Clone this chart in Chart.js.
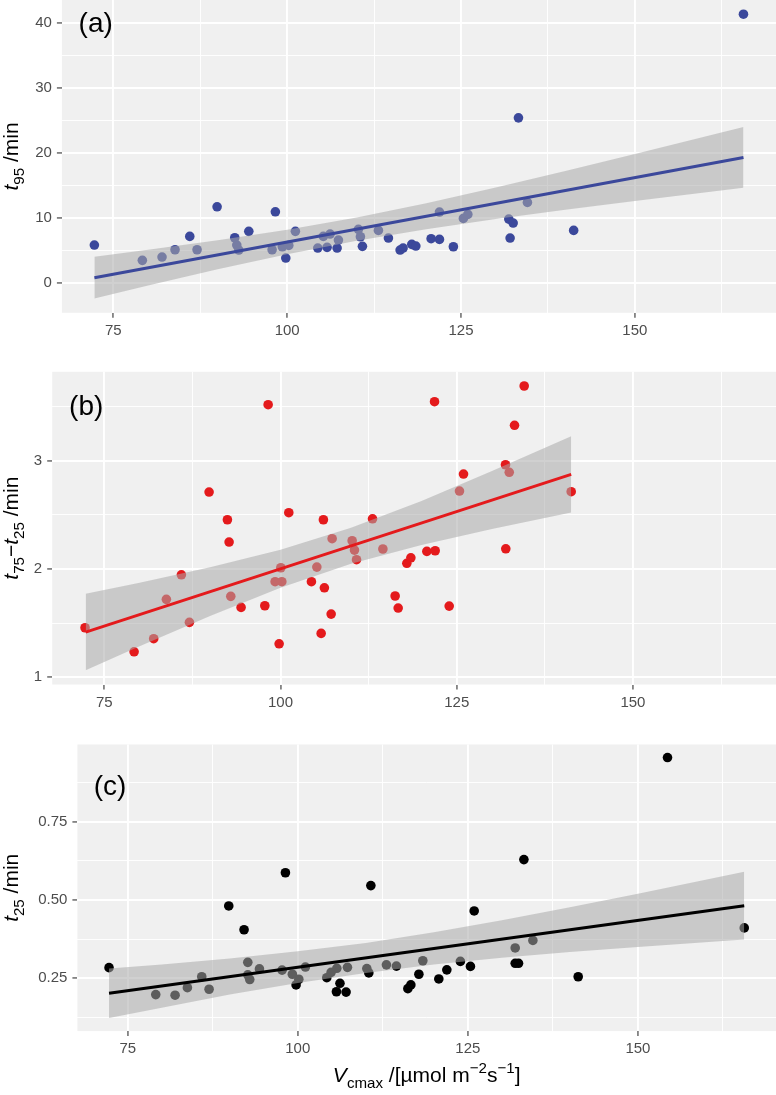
<!DOCTYPE html>
<html>
<head>
<meta charset="utf-8">
<script src="https://cdn.jsdelivr.net/npm/chart.js@4.4.0/dist/chart.umd.min.js"></script>
<style>
html, body { margin: 0; padding: 0; background: #fff; overflow: hidden; }
#wrap { position: relative; width: 776px; height: 1095px; overflow: hidden; }
canvas { position: absolute; left: 0; }
</style>
</head>
<body>
<div id="wrap">
  <canvas id="cntPanelA" width="776" height="370" style="top:-20px"></canvas>
  <canvas id="cntPanelB" width="776" height="370" style="top:350px"></canvas>
  <canvas id="cntPanelC" width="776" height="375" style="top:720px"></canvas>
</div>
<script>
// x axis (shared)
const xMajor = [75, 100, 125, 150];
const xMinor = [87.5, 112.5, 137.5, 162.5];

// (a) t95
const vcmaxA = [72.27, 79.17, 82.0, 83.87, 85.99, 87.04, 89.92, 92.46, 92.75, 93.04, 94.48, 97.83, 98.3, 99.3, 99.8, 100.23, 101.18, 104.4, 105.2, 105.74, 106.17, 107.18, 107.37, 110.24, 110.53, 110.82, 113.12, 114.56, 116.24, 116.67, 117.92, 118.5, 120.7, 121.9, 121.9, 123.9, 125.34, 125.98, 131.87, 132.5, 132.06, 133.26, 134.55, 141.2, 165.62];
const t95 = [5.87, 3.52, 4.03, 5.15, 7.2, 5.15, 11.74, 6.99, 5.87, 5.1, 7.97, 5.15, 10.97, 5.61, 3.88, 5.82, 7.97, 5.41, 7.2, 5.52, 7.56, 5.41, 6.64, 8.28, 7.14, 5.67, 8.12, 6.94, 5.1, 5.41, 5.98, 5.72, 6.84, 6.74, 10.93, 5.61, 9.96, 10.57, 9.85, 9.24, 6.94, 25.38, 12.41, 8.12, 41.27];
const fitXA = [72.27, 165.62];
const fitYA = [0.86, 19.31];
const bandXA = [72.27, 80, 90, 100, 110, 120, 130, 140, 150, 165.62];
const bandLoA = [-2.34, -0.35, 2.14, 4.47, 6.54, 8.31, 9.86, 11.28, 12.63, 14.66];
const bandHiA = [4.06, 5.13, 6.60, 8.22, 10.10, 12.29, 14.70, 17.23, 19.83, 23.96];
const yMajorA = [0, 10, 20, 30, 40];
const yMinorA = [5, 15, 25, 35];

// (b) t75 - t25
const vcmaxB = [72.26, 79.22, 82.0, 83.8, 85.93, 87.07, 89.86, 92.46, 92.7, 92.94, 94.4, 97.77, 98.24, 99.23, 99.8, 100.04, 100.18, 101.17, 104.38, 105.15, 105.76, 106.08, 106.22, 107.18, 107.32, 110.16, 110.49, 110.78, 113.05, 114.52, 116.26, 116.69, 117.92, 118.49, 120.76, 121.94, 121.85, 123.93, 125.39, 125.96, 131.92, 132.45, 131.96, 133.2, 134.57, 141.24];
const t75t25 = [1.458, 1.236, 1.357, 1.72, 1.947, 1.508, 2.711, 2.455, 2.249, 1.748, 1.646, 1.661, 3.517, 1.883, 1.31, 2.012, 1.883, 2.52, 1.883, 2.018, 1.406, 2.455, 1.827, 1.584, 2.28, 2.261, 2.175, 2.086, 2.464, 2.185, 1.751, 1.64, 2.053, 2.104, 2.163, 2.169, 3.545, 1.658, 2.72, 2.877, 2.963, 2.893, 2.187, 3.327, 3.69, 2.714];
const fitXB = [72.35, 141.24];
const fitYB = [1.418, 2.874];
const bandXB = [72.35, 80, 90, 100, 110, 120, 130, 141.24];
const bandLoB = [1.065, 1.286, 1.567, 1.827, 2.048, 2.221, 2.369, 2.521];
const bandHiB = [1.771, 1.874, 2.017, 2.179, 2.382, 2.629, 2.905, 3.227];
const yMajorB = [1, 2, 3];
const yMinorB = [1.5, 2.5, 3.5];

// (c) t25
const vcmaxC = [72.25, 79.12, 81.96, 83.77, 85.88, 86.96, 89.85, 92.1, 92.65, 92.65, 92.94, 94.36, 97.69, 98.18, 99.2, 99.75, 100.15, 101.12, 104.26, 104.9, 105.74, 105.68, 106.2, 107.1, 107.3, 110.15, 110.44, 110.74, 113.03, 114.5, 116.18, 116.62, 117.8, 118.38, 120.73, 121.91, 123.9, 125.38, 125.93, 131.96, 131.96, 132.45, 133.24, 134.56, 141.22, 154.35, 165.63];
const t25 = [0.284, 0.198, 0.196, 0.220, 0.255, 0.215, 0.481, 0.405, 0.301, 0.261, 0.246, 0.280, 0.276, 0.587, 0.263, 0.229, 0.247, 0.286, 0.252, 0.269, 0.282, 0.207, 0.234, 0.206, 0.285, 0.281, 0.267, 0.546, 0.293, 0.289, 0.217, 0.229, 0.263, 0.306, 0.248, 0.277, 0.304, 0.288, 0.465, 0.347, 0.298, 0.298, 0.629, 0.371, 0.255, 0.955, 0.411];
const fitXC = [72.25, 165.63];
const fitYC = [0.202, 0.482];
const bandXC = [72.25, 80, 90, 100, 110, 120, 130, 140, 150, 165.63];
const bandLoC = [0.123, 0.156, 0.198, 0.235, 0.267, 0.294, 0.316, 0.334, 0.350, 0.374];
const bandHiC = [0.281, 0.294, 0.313, 0.336, 0.363, 0.397, 0.435, 0.477, 0.520, 0.590];
const yMajorC = [0.25, 0.5, 0.75];
const yMinorC = [0.125, 0.375, 0.625, 0.875];

const FONT = "'Liberation Sans', Arial, sans-serif";
const BAND = 'rgba(170,170,170,0.55)';

function pts(xs, ys) {
  return xs.map(function(v, i) { return {x: v, y: ys[i]}; });
}

function drawRich(ctx, segs, size, cx, cy, rot) {
  ctx.save();
  ctx.translate(cx, cy);
  if (rot) ctx.rotate(-Math.PI / 2);
  ctx.textBaseline = 'alphabetic';
  ctx.textAlign = 'left';
  ctx.fillStyle = '#000';
  var w = 0;
  segs.forEach(function(s) {
    var sz = (s.sub || s.sup) ? size * 0.72 : size;
    ctx.font = (s.it ? 'italic ' : '') + sz + 'px ' + FONT;
    s.w = ctx.measureText(s.t).width;
    s.sz = sz;
    w += s.w;
  });
  var x = -w / 2;
  segs.forEach(function(s) {
    ctx.font = (s.it ? 'italic ' : '') + s.sz + 'px ' + FONT;
    var dy = s.sub ? size * 0.28 : (s.sup ? -size * 0.42 : 0);
    ctx.fillText(s.t, x, dy);
    x += s.w;
  });
  ctx.restore();
}

const panelDeco = {
  id: 'panelDeco',
  beforeDraw: function(chart) {
    const a = chart.chartArea;
    const ctx = chart.ctx;
    ctx.save();
    ctx.fillStyle = '#F0F0F0';
    ctx.fillRect(a.left, a.top, a.right - a.left, a.bottom - a.top);
    ctx.restore();
  },
  afterDraw: function(chart, args, o) {
    const a = chart.chartArea;
    const ctx = chart.ctx;
    drawRich(ctx, o.yTitle, 21, 18, (a.top + a.bottom) / 2, true);
    if (o.xTitle) {
      drawRich(ctx, o.xTitle, 21, (a.left + a.right) / 2, a.bottom + 51, false);
    }
    ctx.save();
    ctx.font = '28px ' + FONT;
    ctx.fillStyle = '#000';
    ctx.textBaseline = 'middle';
    ctx.textAlign = 'left';
    ctx.fillText(o.label, chart.scales.x.getPixelForValue(70), chart.scales.y.getPixelForValue(o.labelY));
    ctx.restore();
  }
};

function isMajor(list, v) {
  return list.some(function(m) { return Math.abs(m - v) < 1e-9; });
}

function crearPanel(id, cfg) {
  const cnv = document.getElementById(id);
  const ctx = cnv.getContext('2d');
  const yTicks = cfg.yMajor.concat(cfg.yMinor).sort(function(p, q) { return p - q; });
  const xTicks = xMajor.concat(xMinor).sort(function(p, q) { return p - q; });
  return new Chart(ctx, {
    type: 'scatter',
    data: {
      datasets: [{
        type: 'line',
        data: pts(cfg.fitX, cfg.fitY),
        borderColor: cfg.color,
        borderWidth: 3,
        pointRadius: 0,
        fill: false
      }, {
        type: 'line',
        data: pts(cfg.bandX, cfg.bandHi),
        borderWidth: 0,
        borderColor: 'rgba(0,0,0,0)',
        pointRadius: 0,
        backgroundColor: BAND,
        fill: '+1'
      }, {
        type: 'line',
        data: pts(cfg.bandX, cfg.bandLo),
        borderWidth: 0,
        borderColor: 'rgba(0,0,0,0)',
        pointRadius: 0,
        fill: false
      }, {
        data: pts(cfg.xs, cfg.ys),
        backgroundColor: cfg.color,
        borderWidth: 0,
        pointRadius: 4.8
      }]
    },
    options: {
      responsive: false,
      animation: false,
      layout: { autoPadding: false, padding: { top: cfg.padTop, left: 0, right: 0, bottom: 0 } },
      plugins: {
        legend: { display: false },
        tooltip: { enabled: false },
        panelDeco: { yTitle: cfg.yTitle, xTitle: cfg.xTitle, label: cfg.label, labelY: cfg.labelY }
      },
      scales: {
        x: {
          type: 'linear',
          min: 67.6,
          max: 170.3,
          border: { display: false },
          afterFit: function(s) { s.height = cnv.height - cfg.padTop - cfg.areaH; },
          afterBuildTicks: function(s) { s.ticks = xTicks.map(function(v) { return {value: v}; }); },
          grid: {
            color: '#FFFFFF',
            lineWidth: function(c) { return c.tick && isMajor(xMajor, c.tick.value) ? 1.9 : 0.9; },
            tickColor: function(c) { return c.tick && isMajor(xMajor, c.tick.value) ? '#333333' : 'rgba(0,0,0,0)'; },
            tickLength: 5,
            tickWidth: 1.1
          },
          ticks: {
            autoSkip: false,
            maxRotation: 0,
            padding: 4,
            color: '#4D4D4D',
            font: { family: FONT, size: 15 },
            callback: function(v) { return isMajor(xMajor, v) ? String(v) : ''; }
          }
        },
        y: {
          type: 'linear',
          min: cfg.yMin,
          max: cfg.yMax,
          border: { display: false },
          afterFit: function(s) { s.width = cfg.areaLeft; },
          afterBuildTicks: function(s) { s.ticks = yTicks.map(function(v) { return {value: v}; }); },
          grid: {
            color: '#FFFFFF',
            lineWidth: function(c) { return c.tick && isMajor(cfg.yMajor, c.tick.value) ? 1.9 : 0.9; },
            tickColor: function(c) { return c.tick && isMajor(cfg.yMajor, c.tick.value) ? '#333333' : 'rgba(0,0,0,0)'; },
            tickLength: 5,
            tickWidth: 1.1
          },
          ticks: {
            autoSkip: false,
            padding: 5,
            color: '#4D4D4D',
            font: { family: FONT, size: 15 },
            callback: function(v) { return isMajor(cfg.yMajor, v) ? cfg.fmt(v) : ''; }
          }
        }
      }
    },
    plugins: [panelDeco]
  });
}

// canvas (a) starts 20px above the page so its plot area begins at y = 0
crearPanel('cntPanelA', {
  xs: vcmaxA, ys: t95, fitX: fitXA, fitY: fitYA,
  bandX: bandXA, bandLo: bandLoA, bandHi: bandHiA,
  yMajor: yMajorA, yMinor: yMinorA, yMin: -4.52, yMax: 43.45,
  color: '#3B489B', padTop: 20, areaH: 312.8, areaLeft: 61.9,
  fmt: function(v) { return String(v); },
  yTitle: [{t: 't', it: true}, {t: '95', sub: true}, {t: ' /min'}],
  label: '(a)', labelY: 39.7
});

crearPanel('cntPanelB', {
  xs: vcmaxB, ys: t75t25, fitX: fitXB, fitY: fitYB,
  bandX: bandXB, bandLo: bandLoB, bandHi: bandHiB,
  yMajor: yMajorB, yMinor: yMinorB, yMin: 0.934, yMax: 3.821,
  color: '#E41A1C', padTop: 21.8, areaH: 312.7, areaLeft: 52.2,
  fmt: function(v) { return String(v); },
  yTitle: [{t: 't', it: true}, {t: '75', sub: true}, {t: '\u2212'}, {t: 't', it: true}, {t: '25', sub: true}, {t: ' /min'}],
  label: '(b)', labelY: 3.49
});

crearPanel('cntPanelC', {
  xs: vcmaxC, ys: t25, fitX: fitXC, fitY: fitYC,
  bandX: bandXC, bandLo: bandLoC, bandHi: bandHiC,
  yMajor: yMajorC, yMinor: yMinorC, yMin: 0.0814, yMax: 0.9966,
  color: '#000000', padTop: 24.5, areaH: 286.6, areaLeft: 77.4,
  fmt: function(v) { return v.toFixed(2); },
  yTitle: [{t: 't', it: true}, {t: '25', sub: true}, {t: ' /min'}],
  xTitle: [{t: 'V', it: true}, {t: 'cmax', sub: true}, {t: ' /[\u00B5mol m'}, {t: '\u22122', sup: true}, {t: 's'}, {t: '\u22121', sup: true}, {t: ']'}],
  label: '(c)', labelY: 0.861
});
</script>
</body>
</html>
